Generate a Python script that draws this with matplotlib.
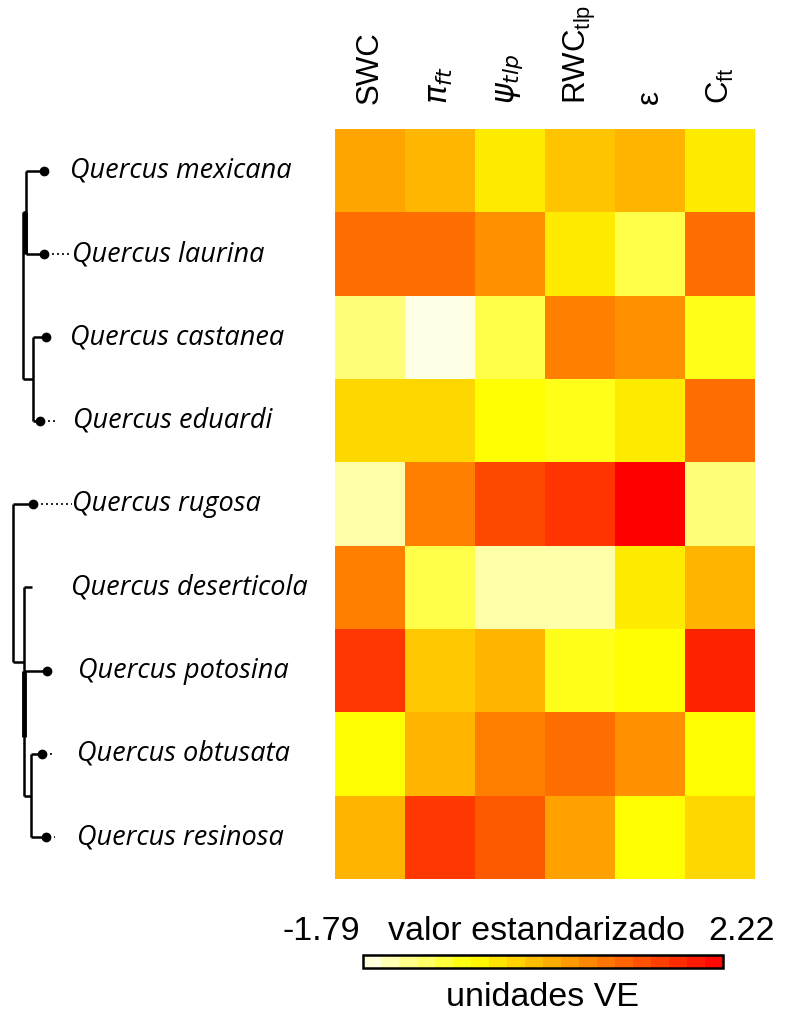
import numpy as np
import matplotlib
matplotlib.use('Agg')
import matplotlib.pyplot as plt
from matplotlib.colors import LinearSegmentedColormap

# standardized values (rows = species, columns = traits)
species = ['Quercus mexicana', 'Quercus laurina', 'Quercus castanea', 'Quercus eduardi',
           'Quercus rugosa', 'Quercus deserticola', 'Quercus potosina', 'Quercus obtusata',
           'Quercus resinosa']
traits = ['SWC', r'$\pi_{ft}$', r'$\psi_{tlp}$', r'RWC$_\mathregular{tlp}$', 'ε', r'C$_\mathregular{ft}$']

swc = [0.40, 1.01, -1.19, -0.15, -1.44, 0.81, 1.60, -0.59, 0.23]
pi_ft = [0.21, 1.01, -1.73, -0.15, 0.81, -0.95, 0.02, 0.23, 1.60]
psi_tlp = [-0.37, 0.62, -0.95, -0.59, 1.42, -1.44, 0.23, 0.81, 1.23]
rwc_tlp = [0.07, -0.37, 0.81, -0.71, 1.63, -1.44, -0.71, 1.01, 0.43]
epsilon = [0.23, -0.95, 0.62, -0.37, 2.22, -0.37, -0.59, 0.62, -0.59]
c_ft = [-0.37, 1.01, -0.71, 1.01, -1.19, 0.23, 1.82, -0.59, -0.15]

vmin = -1.79
vmax = 2.22

# label x offsets (pixels) and dendrogram segments, in pixel/row units
label_x = [70, 72, 70, 73, 72, 71, 78, 77, 77]
tree_lines = [
    # upper clade
    ([23, 23], [0.5, 2.5]), ([23, 26], [0.5, 0.5]), ([26, 26], [0, 1]),
    ([26, 44], [0, 0]), ([26, 44], [1, 1]),
    ([23, 33], [2.5, 2.5]), ([33, 33], [2, 3]),
    ([33, 46], [2, 2]), ([33, 40], [3, 3]),
    # lower clade
    ([13, 33], [4, 4]), ([13, 13], [4, 5.9]), ([13, 24], [5.9, 5.9]),
    ([24, 24], [5, 7.5]), ([24, 32], [5, 5]), ([24, 47], [6, 6]),
    ([24, 31], [7.5, 7.5]), ([31, 31], [7, 8]),
    ([31, 42], [7, 7]), ([31, 46], [8, 8]),
]
thick_lines = [([25, 25], [0.5, 1]), ([24, 24], [6, 6.8])]
tips = [(44, 0), (44, 1), (46, 2), (40, 3), (33, 4), (47, 6), (42, 7), (46, 8)]
dotted = [([47, 72], [1, 1]), ([43, 57], [3, 3]), ([36, 72], [4, 4]),
          ([50, 55], [6, 6]), ([45, 52], [7, 7]), ([49, 55], [8, 8])]


def main():
    data = np.array([swc, pi_ft, psi_tlp, rwc_tlp, epsilon, c_ft]).T
    cmap = LinearSegmentedColormap.from_list(
        'heat', [(0, '#FFFFF0'), (0.3, '#FFFF00'), (1, '#FF0000')])

    W, H = 786, 1017
    fig = plt.figure(figsize=(W / 100, H / 100), dpi=100)

    hm_left, hm_right, hm_top, hm_bot = 335, 755, 129, 879
    ax = fig.add_axes([hm_left / W, 1 - hm_bot / H, (hm_right - hm_left) / W, (hm_bot - hm_top) / H])
    im = ax.imshow(data, cmap=cmap, vmin=vmin, vmax=vmax, aspect='auto', interpolation='nearest')
    ax.set_xticks([])
    ax.set_yticks([])
    for s in ax.spines.values():
        s.set_visible(False)

    # trait names above the columns
    for j, t in enumerate(traits):
        ax.text(j, -0.8, t, rotation=90, ha='center', va='bottom', fontsize=22.5,
                family='Liberation Sans')

    # dendrogram and species names
    ax2 = fig.add_axes([0, 1 - hm_bot / H, hm_left / W, (hm_bot - hm_top) / H])
    ax2.set_xlim(0, hm_left)
    ax2.set_ylim(8.5, -0.5)
    ax2.axis('off')
    for xs, ys in tree_lines:
        ax2.plot(xs, ys, color='black', lw=1.8, solid_capstyle='butt')
    for xs, ys in thick_lines:
        ax2.plot(xs, ys, color='black', lw=3.5, solid_capstyle='butt')
    for xs, ys in dotted:
        ax2.plot(xs, ys, color='black', lw=1.2, ls=(0, (1.2, 1.8)))
    for x, y in tips:
        ax2.plot(x, y, 'o', color='black', markersize=6)
    for i, name in enumerate(species):
        ax2.text(label_x[i], i, name, ha='left', va='center', fontsize=19.5,
                 family='Open Sans', style='italic', clip_on=False)

    # colour key
    cl, cr, ct, cb_ = 363, 723, 955, 968
    cax = fig.add_axes([cl / W, 1 - cb_ / H, (cr - cl) / W, (cb_ - ct) / H])
    cb = fig.colorbar(im, cax=cax, orientation='horizontal',
                      boundaries=np.linspace(vmin, vmax, 21))
    cb.set_ticks([])
    cb.outline.set_linewidth(1.8)
    fig.text(283 / W, 1 - 932 / H, '%.2f' % vmin, ha='left', va='center', fontsize=24.5,
             family='Liberation Sans')
    fig.text(775 / W, 1 - 932 / H, '%.2f' % vmax, ha='right', va='center', fontsize=24.5,
             family='Liberation Sans')
    fig.text(536 / W, 1 - 932 / H, 'valor estandarizado', ha='center', va='center', fontsize=24.5,
             family='Liberation Sans')
    fig.text(543 / W, 1 - 998 / H, 'unidades VE', ha='center', va='center', fontsize=24.5,
             family='Liberation Sans')

    fig.savefig('out.png', dpi=100)


if __name__ == '__main__':
    main()
